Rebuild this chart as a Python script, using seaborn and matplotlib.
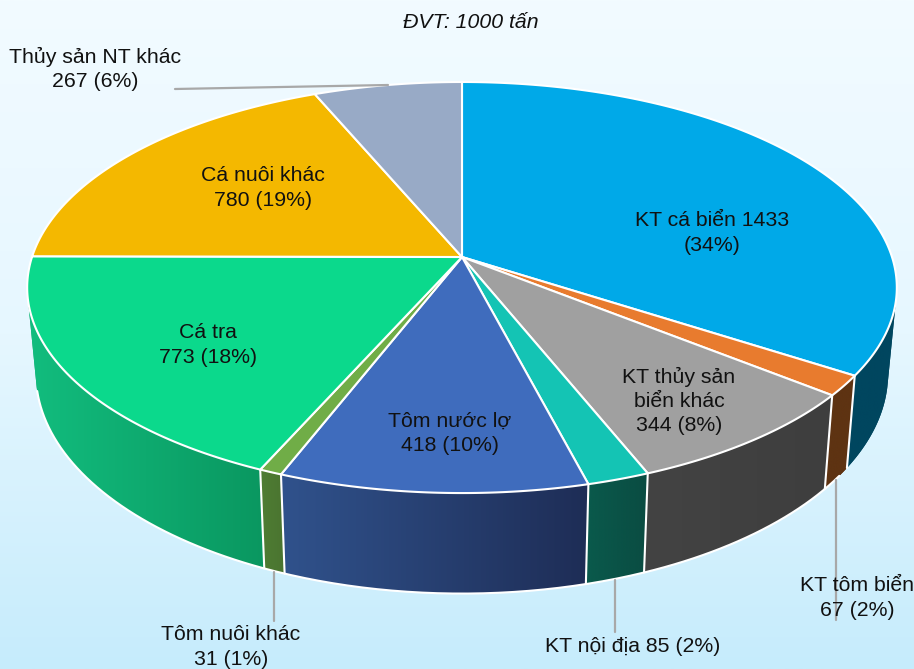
import matplotlib
matplotlib.use('Agg')
import matplotlib.pyplot as plt
import numpy as np
import seaborn as sns
from matplotlib.patches import Polygon

# Dữ liệu (1000 tấn), theo chiều kim đồng hồ từ 12 giờ
categories = ["KT cá biển", "KT tôm biển", "KT thủy sản biển khác", "KT nội địa",
              "Tôm nước lợ", "Tôm nuôi khác", "Cá tra", "Cá nuôi khác", "Thủy sản NT khác"]
values = [1433, 67, 344, 85, 418, 31, 773, 780, 267]
percents = [34, 2, 8, 2, 10, 1, 18, 19, 6]

top_colors = ["#00a9e8", "#e87b2e", "#a0a0a0", "#14c4b4", "#3f6cbd",
              "#70ad47", "#0bd98c", "#f4b800", "#98aac6"]
wall_left = ["#00465f", "#5e3312", "#434343", "#0a5a4c", "#30528c",
             "#4f7d33", "#12bd7e", "#a57d00", "#66748a"]
wall_right = ["#00465f", "#5e3312", "#3e3e3e", "#0a4c42", "#1e2d56",
              "#4a7430", "#0a9760", "#a57d00", "#66748a"]

# (texto, x, y) em pixels da imagem
labels = [
    ("KT cá biển 1433\n(34%)", 712, 233),
    ("KT tôm biển\n67 (2%)", 857, 598),
    ("KT thủy sản\nbiển khác\n344 (8%)", 679, 401),
    ("KT nội địa 85 (2%)", 633, 646),
    ("Tôm nước lợ\n418 (10%)", 450, 433),
    ("Tôm nuôi khác\n31 (1%)", 231, 647),
    ("Cá tra\n773 (18%)", 208, 345),
    ("Cá nuôi khác\n780 (19%)", 263, 188),
    ("Thủy sản NT khác\n267 (6%)", 95, 69),
]
leaders = [((175, 89), (388, 85)), ((836, 480), (836, 620)),
           ((274, 572), (274, 621)), ((615, 580), (615, 632))]

# Geometria da pizza em perspectiva
CX, CY = 462, 257
R, RT, K = 430, 201, 0.1485
WALL_SX, WALL_SY, WALL_D = 0.98, 1.07, 84
WALL_FROM, WALL_TO = np.deg2rad(102), np.deg2rad(258)  # trecho visível da parede
RIM_FROM, RIM_TO = np.deg2rad(125), np.deg2rad(257)


def top_xy(theta):
    """Projeta o ângulo (radianos, 0 = 12 horas) no topo da pizza."""
    u, v = np.sin(theta), -np.cos(theta)
    den = 1 - K * v
    return CX + R * u / den, CY + RT * v / den


def bottom_xy(theta):
    x, y = top_xy(theta)
    return CX + (x - CX) * WALL_SX, CY + WALL_D + (y - CY) * WALL_SY


sns.set_theme(style="white")
plt.rcParams['font.family'] = ['Liberation Sans', 'DejaVu Sans']

fig = plt.figure(figsize=(9.14, 6.69), dpi=100)
ax = fig.add_axes([0, 0, 1, 1])
ax.set_xlim(0, 914)
ax.set_ylim(669, 0)
ax.axis("off")

# Fundo em degradê
bg_cmap = sns.blend_palette(["#f2fbff", "#e6f7ff", "#c6ecfc"], as_cmap=True)
ax.imshow(np.linspace(0, 1, 256).reshape(-1, 1), cmap=bg_cmap, aspect="auto",
          extent=(0, 914, 669, 0), zorder=0)

edges = np.deg2rad(np.concatenate([[0], np.cumsum(values)]) / sum(values) * 360)

# Paredes laterais: degradê horizontal recortado pelo contorno de cada fatia
for i in range(len(values)):
    start, end = max(edges[i], WALL_FROM), min(edges[i + 1], WALL_TO)
    if start >= end:
        continue
    th = np.linspace(start, end, 200)
    xt, yt = top_xy(th)
    xb, yb = bottom_xy(th)
    cmap = sns.blend_palette([wall_left[i], wall_right[i]], as_cmap=True)
    outline = np.column_stack([np.r_[xt, xb[::-1]], np.r_[yt, yb[::-1]]])
    patch = Polygon(outline, closed=True, facecolor=cmap(0.5), edgecolor="none", zorder=2)
    ax.add_patch(patch)
    img = ax.imshow(np.linspace(0, 1, 256).reshape(1, -1), cmap=cmap, aspect="auto",
                    extent=(outline[:, 0].min(), outline[:, 0].max(),
                            outline[:, 1].max(), outline[:, 1].min()), zorder=2.1)
    img.set_clip_path(patch)
    ax.set_xlim(0, 914)
    ax.set_ylim(669, 0)

# Borda branca inferior
rim = np.linspace(RIM_FROM, RIM_TO, 300)
ax.plot(*bottom_xy(rim), color="white", lw=1.5, zorder=3)

# Divisórias brancas nas paredes
for e in edges[1:-1]:
    if WALL_FROM < e < WALL_TO:
        xt, yt = top_xy(e)
        xb, yb = bottom_xy(e)
        ax.plot([xt, xb], [yt, yb], color="white", lw=1.5, zorder=3)

# Topo da pizza
for i in range(len(values)):
    th = np.linspace(edges[i], edges[i + 1], 200)
    xt, yt = top_xy(th)
    pts = np.column_stack([np.r_[CX, xt], np.r_[CY, yt]])
    ax.add_patch(Polygon(pts, closed=True, facecolor=top_colors[i], edgecolor="white",
                         lw=1.5, joinstyle="round", zorder=4))

for a, b in leaders:
    ax.plot([a[0], b[0]], [a[1], b[1]], color="#a8a8a8", lw=1.6, zorder=5)

for txt, x, y in labels:
    ax.text(x, y, txt, ha="center", va="center", fontsize=15.3, color="#111111",
            linespacing=1.36, zorder=6)

ax.text(471, 22, "ĐVT: 1000 tấn", ha="center", va="center", fontsize=15.3,
        style="italic", color="#111111", zorder=6)

fig.savefig("out.png", dpi=100)
plt.close(fig)
